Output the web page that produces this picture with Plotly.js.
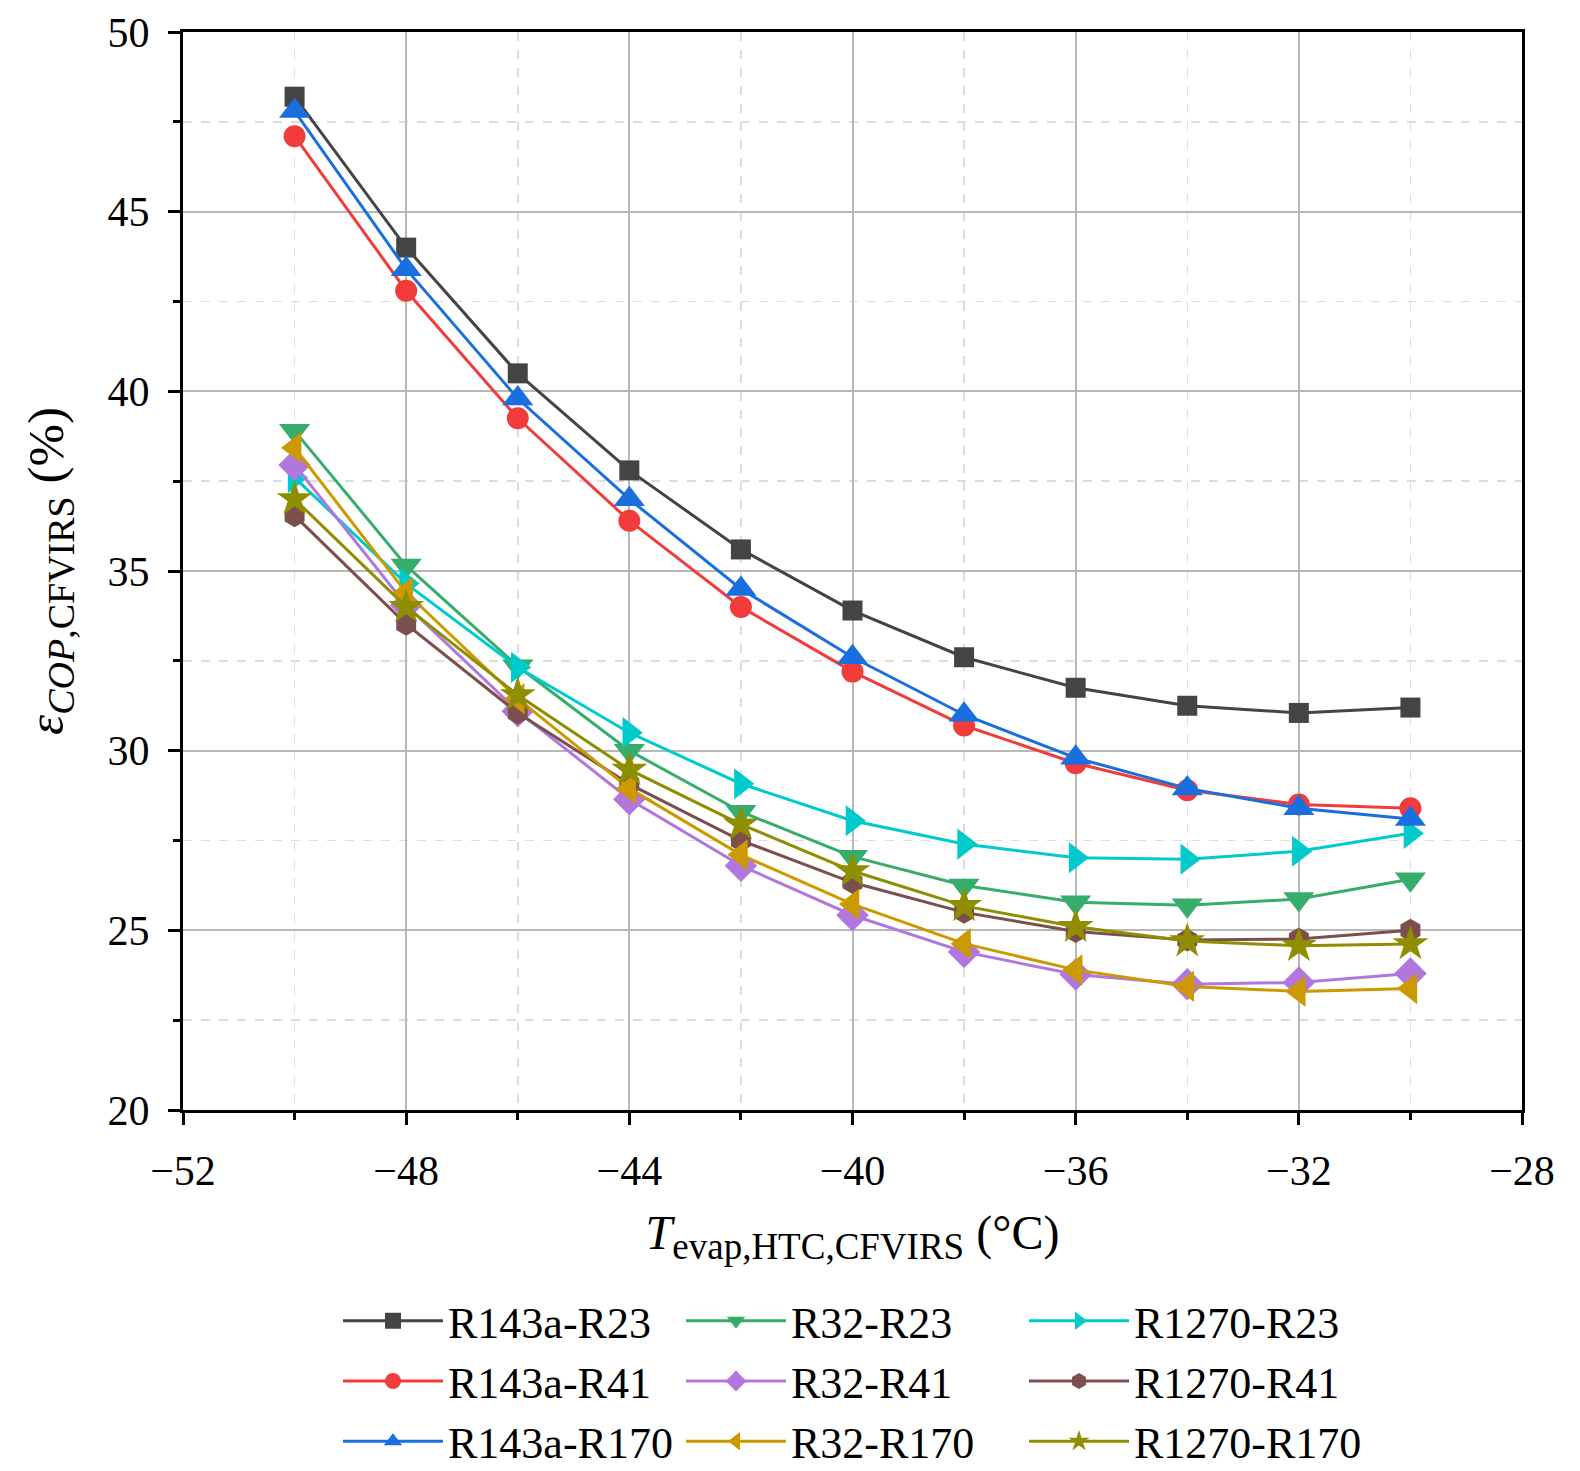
<!DOCTYPE html>
<html>
<head>
<meta charset="utf-8">
<script src="https://cdn.plot.ly/plotly-3.0.1.min.js"></script>
<style>
  body { margin: 0; background: #fff; }
  #chart { width: 1580px; height: 1471px; }
</style>
</head>
<body>
<div id="chart"></div>
<script>
// evaporating temperature of the HTC (°C)
var tEvap = [-50, -48, -46, -44, -42, -40, -38, -36, -34, -32, -30];

// exergy efficiency, %
var r143aR23  = [48.2, 44.0, 40.5, 37.8, 35.6, 33.9, 32.6, 31.75, 31.25, 31.05, 31.2];
var r143aR41  = [47.1, 42.8, 39.25, 36.4, 34.0, 32.2, 30.7, 29.65, 28.9, 28.5, 28.4];
var r143aR170 = [47.8, 43.4, 39.8, 37.0, 34.5, 32.6, 31.0, 29.8, 28.95, 28.4, 28.1];
var r32R23    = [38.9, 35.15, 32.35, 30.0, 28.3, 27.05, 26.25, 25.78, 25.7, 25.87, 26.42];
var r32R41    = [37.95, 34.05, 31.1, 28.65, 26.8, 25.42, 24.4, 23.77, 23.5, 23.55, 23.8];
var r32R170   = [38.43, 34.4, 31.45, 28.95, 27.1, 25.73, 24.63, 23.9, 23.44, 23.3, 23.38];
var r1270R23  = [37.6, 34.65, 32.32, 30.5, 29.08, 28.05, 27.4, 27.02, 26.98, 27.2, 27.7];
var r1270R41  = [36.54, 33.52, 31.05, 29.07, 27.5, 26.33, 25.5, 24.97, 24.73, 24.76, 25.0];
var r1270R170 = [37.0, 34.0, 31.55, 29.47, 27.95, 26.65, 25.68, 25.1, 24.7, 24.57, 24.62];

// legend reads row by row, so traces go in that order
var names   = ['R143a-R23', 'R32-R23', 'R1270-R23',
               'R143a-R41', 'R32-R41', 'R1270-R41',
               'R143a-R170', 'R32-R170', 'R1270-R170'];
var series  = [r143aR23, r32R23, r1270R23,
               r143aR41, r32R41, r1270R41,
               r143aR170, r32R170, r1270R170];
var colors  = ['#444444', '#37AD6B', '#00CBCC',
               '#F23B3B', '#B177DE', '#7D4E4E',
               '#1A6FDF', '#CC9900', '#8E8E00'];
var symbols = ['square', 'triangle-down', 'triangle-right',
               'circle', 'diamond', 'hexagon',
               'triangle-up', 'triangle-left', 'star'];
var sizes   = [20, 27, 27,
               22, 25, 23,
               27, 27, 27];

var data = [];
for (var i = 0; i < names.length; i++) {
    data.push({
        x: tEvap,
        y: series[i],
        name: names[i],
        type: 'scatter',
        mode: 'lines+markers',
        line: { color: colors[i], width: 3 },
        marker: { color: colors[i], symbol: symbols[i], size: sizes[i] }
    });
}

var serif = 'Liberation Serif, Times New Roman, serif';

var layout = {
    width: 1580,
    height: 1471,
    paper_bgcolor: '#ffffff',
    plot_bgcolor: '#ffffff',
    font: { family: serif, size: 42, color: '#000' },
    margin: { l: 183, r: 58, t: 32, b: 361, autoexpand: false },
    showlegend: true,
    legend: {
        orientation: 'h',
        x: 0.5, xanchor: 'center',
        y: -0.163, yanchor: 'top',
        entrywidth: 228,
        itemwidth: 100,
        font: { family: serif, size: 44, color: '#000' },
        tracegroupgap: 0
    },
    xaxis: {
        range: [-52, -28],
        dtick: 4, tick0: -52,
        showline: true, mirror: true, linecolor: '#000', linewidth: 3,
        ticks: 'outside', ticklen: 12, tickwidth: 3, tickcolor: '#000',
        ticklabelstandoff: 10,
        showgrid: true, gridcolor: '#b8b8b8', gridwidth: 2,
        zeroline: false,
        minor: { dtick: 2, ticks: 'outside', ticklen: 7, tickwidth: 3, tickcolor: '#000',
                 showgrid: true, gridcolor: '#dddddd', griddash: 'dash', gridwidth: 1.5 },
        tickfont: { size: 42 },
        title: {
            text: '<i>T</i><sub><span style="font-size:37px">evap,HTC,CFVIRS</span></sub> (°C)',
            font: { size: 48 }, standoff: 22
        }
    },
    yaxis: {
        range: [20, 50],
        dtick: 5, tick0: 20,
        showline: true, mirror: true, linecolor: '#000', linewidth: 3,
        ticks: 'outside', ticklen: 12, tickwidth: 3, tickcolor: '#000',
        ticklabelstandoff: 10,
        showgrid: true, gridcolor: '#b8b8b8', gridwidth: 2,
        zeroline: false,
        minor: { dtick: 2.5, ticks: 'outside', ticklen: 7, tickwidth: 3, tickcolor: '#000',
                 showgrid: true, gridcolor: '#dddddd', griddash: 'dash', gridwidth: 1.5 },
        tickfont: { size: 42 },
        title: {
            text: '<i>ε</i><sub><span style="font-size:38px"><i>COP</i>,CFVIRS</span></sub> (%)',
            font: { size: 51 }, standoff: 28
        }
    }
};

Plotly.newPlot('chart', data, layout, { staticPlot: true });
</script>
</body>
</html>
